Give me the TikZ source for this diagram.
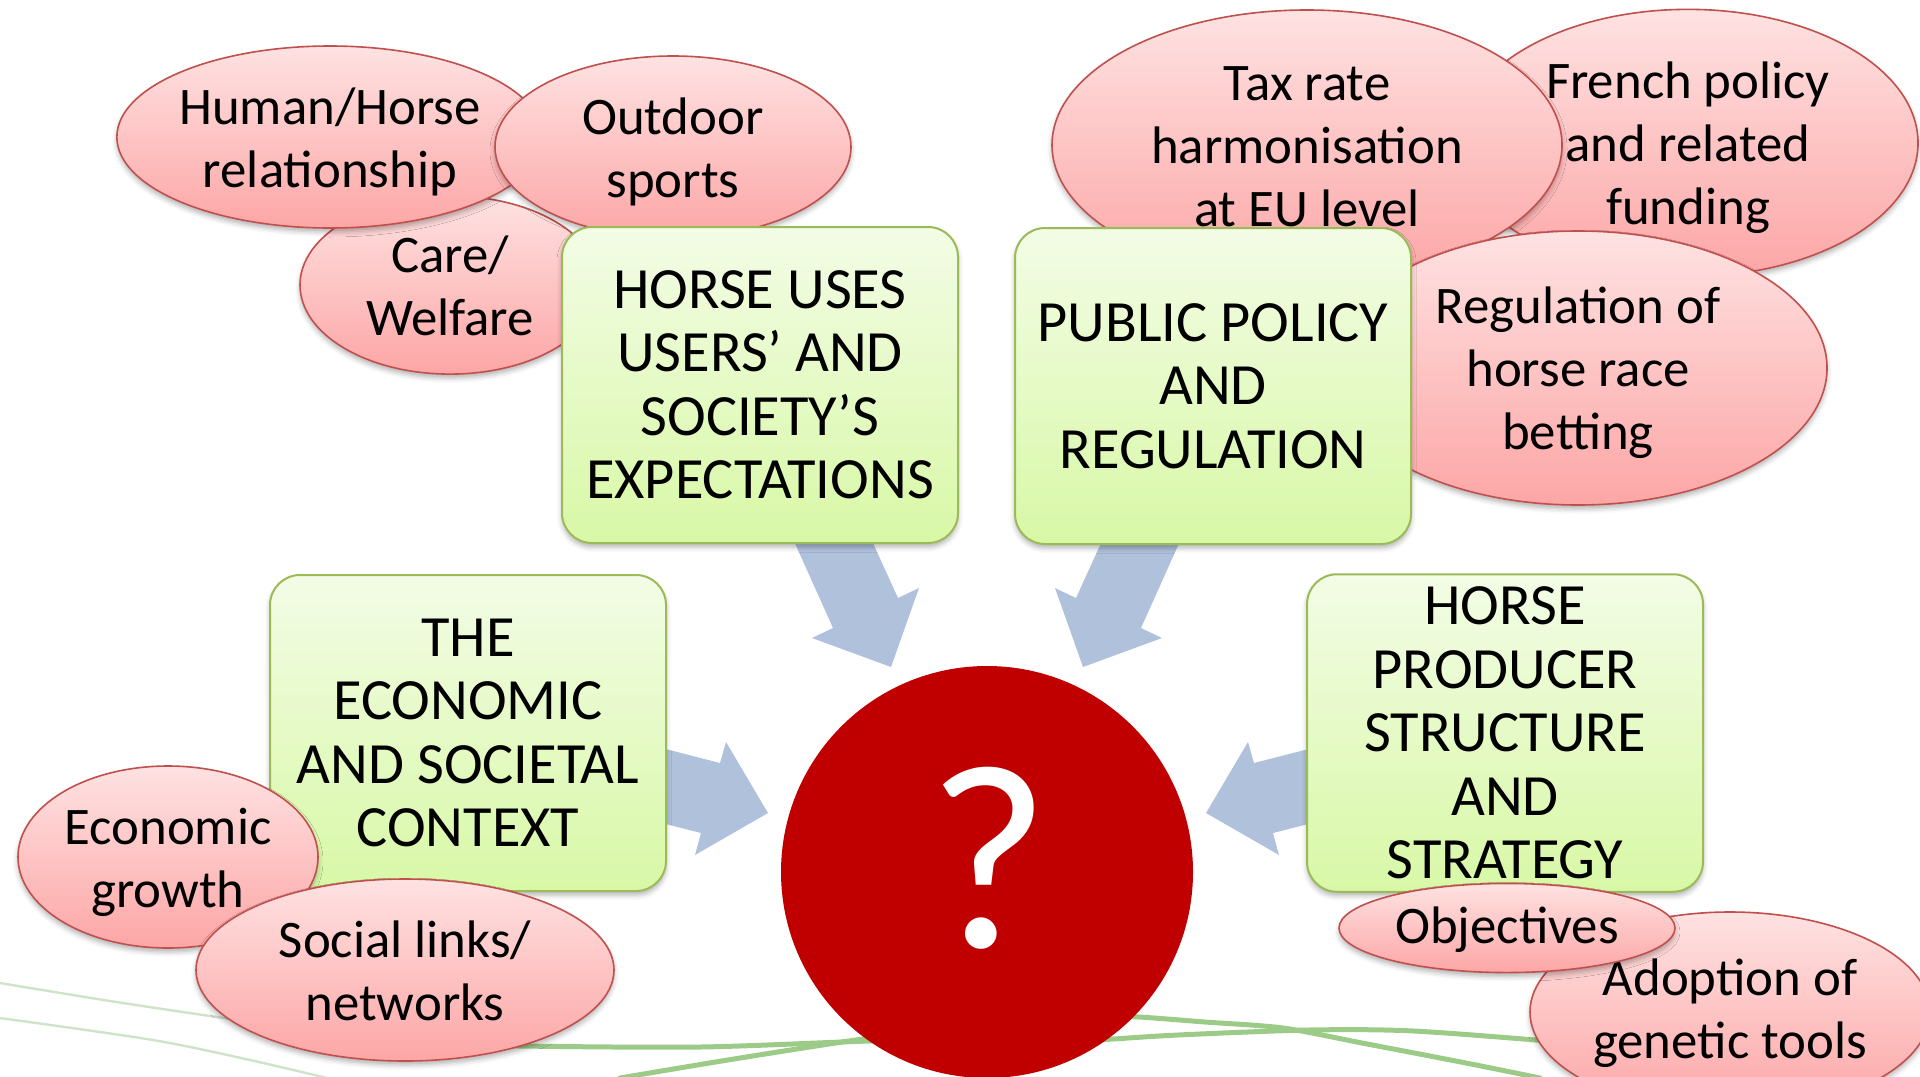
\documentclass[tikz,border=0pt]{standalone}
\usepackage{fontspec}
\setmainfont{Carlito}
\usetikzlibrary{shapes.geometric,shadows.blur}
\definecolor{pinktop}{HTML}{FEE2E2}
\definecolor{pinkbot}{HTML}{FDA6A6}
\definecolor{pinkline}{HTML}{C0504D}
\definecolor{greentop}{HTML}{F3FCE6}
\definecolor{greenbot}{HTML}{D8F8A6}
\definecolor{greenline}{HTML}{9BBB59}
\definecolor{qred}{HTML}{C00000}
\definecolor{arrowblue}{HTML}{B0C1DC}
\definecolor{vine}{HTML}{9CCB88}
\definecolor{vinefade}{HTML}{CFE3C8}
\newcommand{\pinkfont}{\fontsize{26.4pt}{31.5pt}\selectfont}
\newcommand{\greenfont}{\fontsize{29.2pt}{31.75pt}\selectfont}
% text block lowered by #1 without changing its reported size
\newcommand{\txtlines}[2]{\raisebox{-#1}[\height][\depth]{\begin{tabular}{@{}c@{}}#2\end{tabular}}}
\tikzset{
  softshadow/.style={blur shadow={shadow xshift=0pt, shadow yshift=-2pt, shadow blur radius=2.5pt, shadow opacity=30}},
  pinkell/.style={ellipse, draw=pinkline, line width=0.8pt, top color=pinktop, bottom color=pinkbot,
    inner sep=0pt, font=\pinkfont, softshadow},
  greenbox/.style={rectangle, rounded corners=15pt, draw=greenline, line width=1pt, top color=greentop, bottom color=greenbot,
    minimum width=198pt, minimum height=158pt, inner sep=0pt, font=\greenfont, softshadow},
  blockarrow/.style={fill=arrowblue, draw=none},
  vineline/.style={draw=vine, line width=2.5pt, line cap=round},
  fadeline/.style={draw=vinefade, line width=1.2pt, line cap=round},
  qcircle/.style={circle, fill=qred, draw=none, minimum size=206pt, inner sep=0pt},
  qmark/.style={text=white, font=\fontsize{132pt}{140pt}\selectfont, inner sep=0pt}
}
\begin{document}
\begin{tikzpicture}[x=0.5pt,y=-0.5pt]
\useasboundingbox (0,0) rectangle (1920,1076);

% background vines
\draw[fadeline] plot[smooth] coordinates {(0,983) (110,1001) (224,1018) (300,1028)};
\draw[fadeline] plot[smooth] coordinates {(0,1018) (153,1040) (250,1060) (327,1078)};
\draw[vineline] plot[smooth] coordinates {(480,1044) (520,1046) (700,1047) (870,1041) (960,1040)};
\draw[vineline] plot[smooth] coordinates {(620,1078) (740,1058) (870,1038) (950,1030)};
\draw[vineline] plot[smooth] coordinates {(1080,1015) (1139,1017) (1205,1022) (1283,1028) (1362,1043) (1466,1063) (1540,1078)};
\draw[vineline] plot[smooth] coordinates {(1060,1042) (1113,1039) (1178,1035) (1309,1030) (1414,1031) (1560,1042)};

% block arrows
\fill[blockarrow] (789,530) -- (833,628) -- (812,638) -- (891,667) -- (919,588) -- (898,598) -- (867,530) -- cycle;
\fill[blockarrow] (1185,530) -- (1141,628) -- (1162,638) -- (1083,667) -- (1055,588) -- (1076,598) -- (1107,530) -- cycle;
\fill[blockarrow] (650,745) -- (720,763) -- (726,742) -- (768,813) -- (695,855) -- (701,833) -- (650,820) -- cycle;
\fill[blockarrow] (1324,745) -- (1254,763) -- (1248,742) -- (1206,813) -- (1279,855) -- (1273,833) -- (1324,820) -- cycle;

% top left cluster
\node[pinkell, minimum width=150pt, minimum height=89pt] (cw) at (450,285) {\txtlines{3.1pt}{Care/\\Welfare}};
\node[pinkell, minimum width=208pt, minimum height=91pt] (hh) at (330,137) {\txtlines{3.1pt}{Human/Horse\\relationship}};
\node[pinkell, minimum width=178pt, minimum height=91pt] (os) at (673,147) {\txtlines{3.1pt}{Outdoor\\sports}};
\node[greenbox] (hu) at (760,385) {\txtlines{2.9pt}{HORSE USES\\USERS’ AND\\SOCIETY’S\\EXPECTATIONS}};

% top right cluster
\node[pinkell, minimum width=230pt, minimum height=133pt] (fp) at (1688,143) {\txtlines{3.1pt}{French policy\\and related\\funding}};
\node[pinkell, minimum width=255pt, minimum height=135pt] (tx) at (1307,145) {\txtlines{3.1pt}{Tax rate\\harmonisation\\at EU level}};
\node[pinkell, minimum width=249pt, minimum height=137pt] (rg) at (1578,368) {\txtlines{3.1pt}{Regulation of\\horse race\\betting}};
\node[greenbox] (pp) at (1213,386) {\txtlines{2.9pt}{PUBLIC POLICY\\AND\\REGULATION}};

% bottom left cluster
\node[greenbox] (ec) at (468,733) {\txtlines{2.9pt}{THE\\ECONOMIC\\AND SOCIETAL\\CONTEXT}};
\node[pinkell, minimum width=150pt, minimum height=91pt] (eg) at (168,857) {\txtlines{3.1pt}{Economic\\growth}};
\node[pinkell, minimum width=209pt, minimum height=91pt] (sl) at (405,970) {\txtlines{3.1pt}{Social links/\\networks}};

% bottom right cluster
\node[greenbox] (hp) at (1505,733) {\txtlines{2.9pt}{HORSE\\PRODUCER\\STRUCTURE\\AND\\STRATEGY}};
\node[pinkell, minimum width=200pt, minimum height=100pt] (ad) at (1730,1012) {\txtlines{1.0pt}{Adoption of\\genetic tools}};
\node[pinkell, minimum width=168pt, minimum height=44pt] (ob) at (1507,928) {\txtlines{1.2pt}{Objectives}};

% centre
\node[qcircle] (qc) at (987,872) {};
\node[qmark] (q) at (989,858) {?};
\end{tikzpicture}
\end{document}
